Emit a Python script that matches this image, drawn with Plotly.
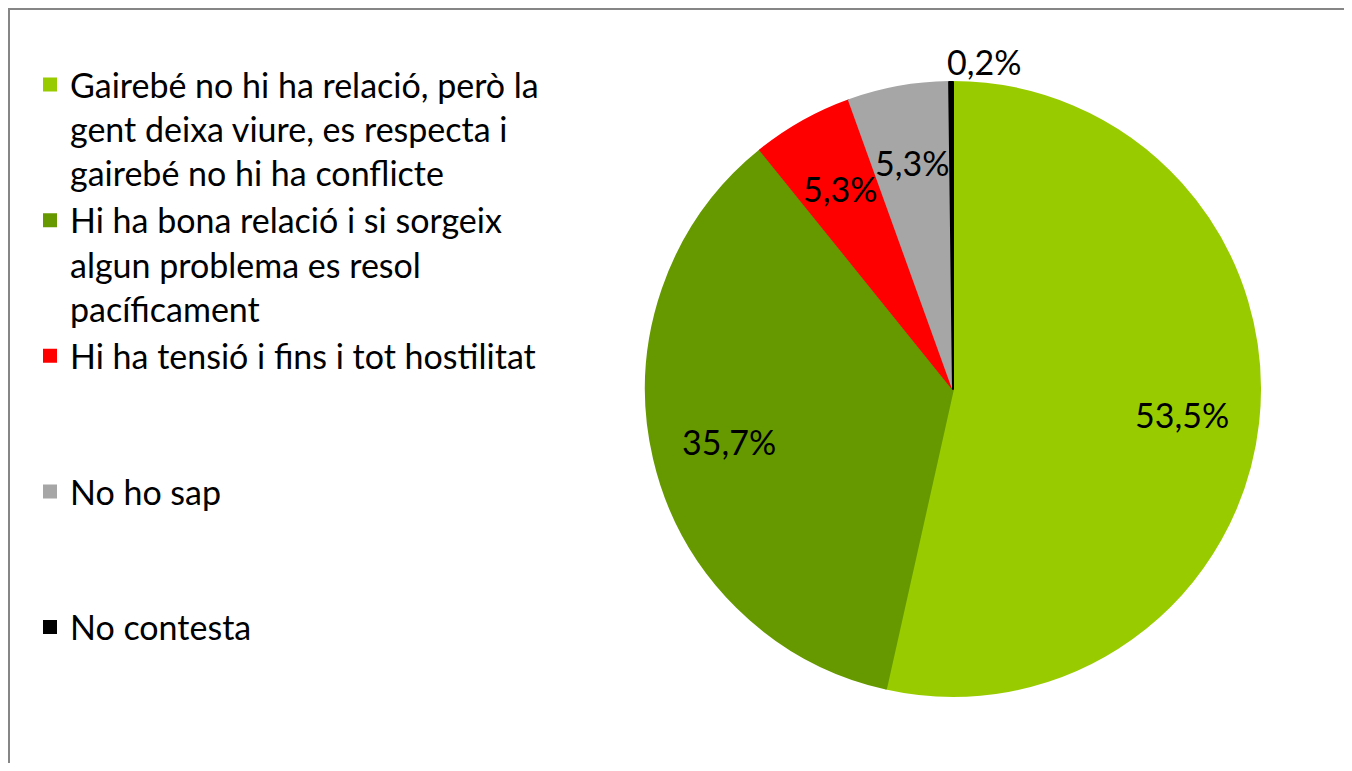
import math
import plotly.graph_objects as go

labels = [
    "Gairebé no hi ha relació, però la<br>gent deixa viure, es respecta i<br>gairebé no hi ha conflicte",
    "Hi ha bona relació i si sorgeix<br>algun problema es resol<br>pacíficament",
    "Hi ha tensió i fins i tot hostilitat<br> <br> ",
    "No ho sap<br> <br> ",
    "No contesta<br> <br> ",
]
values = [53.5, 35.7, 5.3, 5.3, 0.2]
colors = ["#99CC00", "#669900", "#FF0000", "#A6A6A6", "#000000"]
text_labels = [f"{v:.1f}".replace(".", ",") + "%" for v in values]

# figure sized to fit inside the page body (8px default body margin)
W, H = 1336, 755
cx, cy, r = 945, 381, 307
label_radius = [0.75, 0.75, 0.75, 0.75, 1.0]

fig = go.Figure(go.Pie(
    labels=labels,
    values=values,
    textinfo="none",
    sort=False,
    direction="clockwise",
    rotation=0,
    marker=dict(colors=colors, line=dict(width=2, color=colors)),
    domain=dict(x=[(cx - r) / W, (cx + r) / W], y=[(H - cy - r) / H, (H - cy + r) / H]),
    hoverinfo="label+percent",
))

# data labels positioned from the cumulative values
total = sum(values)
annotations = []
cum = 0.0
for i, v in enumerate(values):
    mid = (cum + v / 2) / total * 2 * math.pi
    cum += v
    k = label_radius[i]
    px = cx + k * r * math.sin(mid)
    py = cy - k * r * math.cos(mid)
    inside = k < 1
    annotations.append(dict(
        x=px / W, y=1 - py / H, xref="paper", yref="paper",
        text=text_labels[i], showarrow=False,
        xanchor="center" if inside else "left",
        yanchor="middle" if inside else "bottom",
        xshift=0 if inside else -6,
        yshift=0 if inside else -2,
        font=dict(family="Lato", size=34, color="black"),
    ))

fig.update_layout(
    width=W, height=H,
    margin=dict(l=0, r=0, t=0, b=0),
    paper_bgcolor="white",
    font=dict(family="Lato", color="black"),
    showlegend=True,
    legend=dict(
        x=22 / W, xanchor="left",
        y=1 - 48 / H, yanchor="top",
        font=dict(family="Lato", size=34, color="black"),
        valign="top",
        bgcolor="rgba(0,0,0,0)",
    ),
    annotations=annotations,
    shapes=[dict(
        type="rect", xref="paper", yref="paper",
        x0=1 / W, x1=1.05, y0=-0.05, y1=1 - 1 / H,
        line=dict(color="#868686", width=2), fillcolor="rgba(0,0,0,0)",
    )],
)

fig.write_html("out.html")
